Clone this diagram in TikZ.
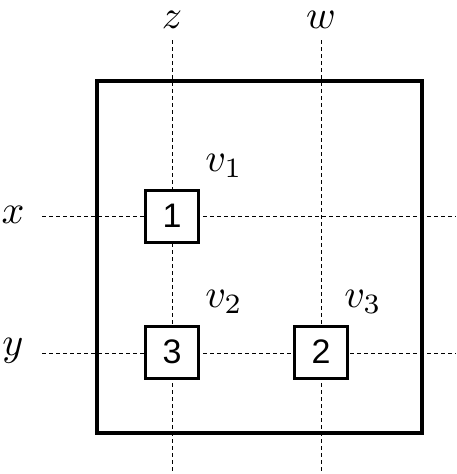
\documentclass[tikz,border=0pt]{standalone}
\usepackage{fontspec}
\newfontfamily\numfont{Liberation Sans}
\begin{document}
\begin{tikzpicture}[x=1pt,y=-1pt,
  grid/.style={line width=0.9pt, dash pattern=on 4pt off 3pt},
  frame/.style={draw, line width=3.2pt},
  cell/.style={draw, fill=white, line width=3pt, minimum width=53pt, minimum height=52pt, inner sep=0pt, font=\fontsize{34}{38}\selectfont\numfont},
  lab/.style={inner sep=0pt, scale=4}]
\useasboundingbox (0,0) rectangle (456,474);
% axis labels
\node[lab] (lz) at (172,20) {$z$};
\node[lab] (lw) at (321,20) {$w$};
\node[lab] (lx) at (13,215) {$x$};
\node[lab] (ly) at (13,351) {$y$};
% line end coordinates
\coordinate (zt) at (172,40);
\coordinate (zb) at (172,474);
\coordinate (wt) at (321,40);
\coordinate (wb) at (321,474);
\coordinate (xl) at (42,216);
\coordinate (xr) at (456,216);
\coordinate (yl) at (42,353);
\coordinate (yr) at (456,353);
% frame
\node[frame, minimum width=325pt, minimum height=352pt, inner sep=0pt] (F) at (259.5,257) {};
\draw[grid] (zt) -- (zb);
\draw[grid] (wt) -- (wb);
\draw[grid] (xl) -- (xr);
\draw[grid] (yl) -- (yr);
% cells
\node[cell] (c1) at (172,216) {1};
\node[cell] (c3) at (172,352) {3};
\node[cell] (c2) at (321,352) {2};
% vertex labels
\node[lab] (v1) at (224,166) {$v_1$};
\node[lab] (v2) at (224,302) {$v_2$};
\node[lab] (v3) at (363,302) {$v_3$};
\end{tikzpicture}
\end{document}
